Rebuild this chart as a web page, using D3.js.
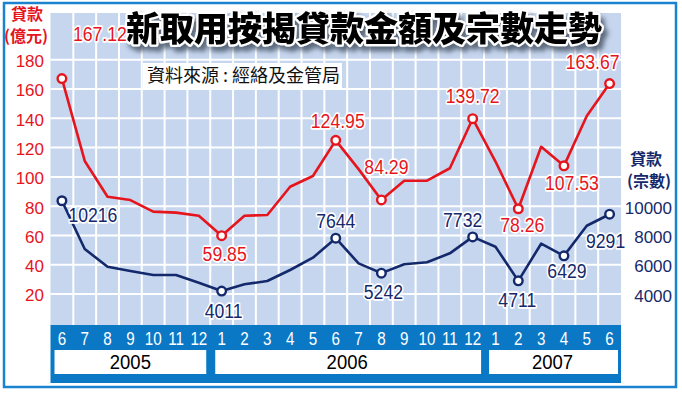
<!DOCTYPE html>
<html>
<head>
<meta charset="utf-8">
<script src="https://cdn.jsdelivr.net/npm/d3@7"></script>
<style>
body { margin: 0; background: #fff; }
text { font-family: "Liberation Sans", Arial, sans-serif; }
.cjk { font-family: "Noto Sans CJK TC", "Noto Sans CJK SC", sans-serif; }
</style>
</head>
<body>
<svg id="chart"></svg>
<script>
// data
const months = ["6","7","8","9","10","11","12","1","2","3","4","5","6","7","8","9","10","11","12","1","2","3","4","5","6"];
const yearLabels = ["2005", "2006", "2007"];
const loanAmount = [167.12, 110.9, 86.5, 84.2, 76.3, 75.6, 73.5, 59.85, 73.5, 74.0, 93.3, 100.6, 124.95,
                    105.3, 84.29, 97.4, 97.4, 105.9, 139.72, 110.5, 78.26, 120.6, 107.53, 141.6, 163.67];
const loanCount = [10216, 6899, 5683, 5387, 5112, 5112, 4583, 4011, 4473, 4700, 5456, 6301, 7644,
                   5916, 5242, 5848, 5985, 6603, 7732, 7057, 4711, 7263, 6429, 8500, 9291];
const labelled = [0, 7, 12, 14, 18, 20, 22, 24];
const amountTicks = [20, 40, 60, 80, 100, 120, 140, 160, 180];
const countTicks = [4000, 6000, 8000, 10000];

// label nudges (px) for each labelled point
const amountOffsets = [[38,-45],[3,18],[2,-20],[5,-33],[0,-23],[4,16],[8,17],[-17,-22]];
const countOffsets  = [[31,14],[2,19],[0,-18],[2,18],[-10,-17],[-1,19],[3,15],[-4,26]];

const width = 682, height = 393;
const RED = "#e6141c", NAVY = "#14296b", BLUE = "#0b78c6";

const svg = d3.select("#chart").attr("width", width).attr("height", height);

const defs = svg.append("defs");
defs.append("filter").attr("id", "shadow")
    .attr("x", "-10%").attr("y", "-30%").attr("width", "130%").attr("height", "180%")
  .append("feDropShadow")
    .attr("dx", 4).attr("dy", 5).attr("stdDeviation", 2.5)
    .attr("flood-color", "#4a5468").attr("flood-opacity", 0.85);

// frame
svg.append("rect").attr("x", 4).attr("y", 3).attr("width", 672).attr("height", 384)
    .attr("fill", "#fff").attr("stroke", "#1b82cf").attr("stroke-width", 2.5);

// scales
const x = d3.scaleBand().domain(d3.range(months.length)).range([50.5, 621]);
const cx = i => x(i) + x.bandwidth() / 2;
const yAmt = d3.scaleLinear().domain([0, 180]).range([323.4, 59.7]);
const yCnt = d3.scaleLinear().domain([4000, 10000]).range([291.2, 203.9]);

// plot background + grid
svg.append("rect").attr("x", 50.5).attr("y", 13).attr("width", 570.5).attr("height", 312)
    .attr("fill", "#c6d6ee");

svg.append("g").selectAll("line.h")
  .data(amountTicks)
  .join("line")
    .attr("x1", 50.5).attr("x2", 621)
    .attr("y1", d => yAmt(d)).attr("y2", d => yAmt(d))
    .attr("stroke", "#fff").attr("stroke-width", 2);

svg.append("g").selectAll("line.v")
  .data(d3.range(1, months.length))
  .join("line")
    .attr("x1", d => x(d)).attr("x2", d => x(d))
    .attr("y1", 13).attr("y2", 325)
    .attr("stroke", "#fff").attr("stroke-width", 2);

// month / year bar
svg.append("rect").attr("x", 50.5).attr("y", 325).attr("width", 570.5).attr("height", 58)
    .attr("fill", BLUE);

svg.append("g").selectAll("text")
  .data(months)
  .join("text")
    .attr("transform", (d, i) => `translate(${cx(i)},345) scale(0.8,1)`)
    .attr("text-anchor", "middle")
    .attr("font-size", 19)
    .attr("fill", "#fff")
    .text(d => d);

// year spans: a new year starts whenever the month is 1
const spans = [];
months.forEach((m, i) => {
  if (i === 0 || m === "1") spans.push({ from: i, to: i });
  else spans[spans.length - 1].to = i;
});
spans.forEach((s, k) => s.label = yearLabels[k]);

const yearG = svg.append("g").selectAll("g").data(spans).join("g");
yearG.append("rect")
    .attr("x", d => x(d.from) + (d.from === 0 ? 4 : 5))
    .attr("width", d => x(d.to) + x.bandwidth() - x(d.from) - (d.from === 0 ? 8 : 8))
    .attr("y", 350).attr("height", 24)
    .attr("fill", "#fff");
yearG.append("text")
    .attr("transform", d => `translate(${(x(d.from) + x(d.to) + x.bandwidth()) / 2},369) scale(0.88,1)`)
    .attr("text-anchor", "middle")
    .attr("font-size", 21)
    .attr("fill", "#000")
    .text(d => d.label);

// left axis (amount)
const leftAxis = svg.append("g").attr("transform", "translate(44,0)")
    .call(d3.axisLeft(yAmt).tickValues(amountTicks).tickSize(0).tickPadding(0));
leftAxis.select(".domain").remove();
leftAxis.selectAll("text").attr("font-size", 17).attr("fill", RED)
    .attr("font-family", "Liberation Sans, Arial, sans-serif").attr("dy", "0.4em");

svg.append("text").attr("class", "cjk").attr("x", 27).attr("y", 20)
    .attr("text-anchor", "middle").attr("font-size", 16).attr("font-weight", 700)
    .attr("fill", RED).text("貸款");
svg.append("text").attr("class", "cjk").attr("x", 26).attr("y", 42)
    .attr("text-anchor", "middle").attr("font-size", 16).attr("font-weight", 700)
    .attr("fill", RED).text("(億元)");

// right axis (count)
const rightAxis = svg.append("g").attr("transform", "translate(672,3)")
    .call(d3.axisLeft(yCnt).tickValues(countTicks).tickFormat(d3.format("d")).tickSize(0).tickPadding(0));
rightAxis.select(".domain").remove();
rightAxis.selectAll("text").attr("font-size", 17).attr("fill", NAVY)
    .attr("font-family", "Liberation Sans, Arial, sans-serif").attr("dy", "0.4em");

svg.append("text").attr("class", "cjk").attr("x", 646).attr("y", 165)
    .attr("text-anchor", "middle").attr("font-size", 16).attr("font-weight", 700)
    .attr("fill", NAVY).text("貸款");
svg.append("text").attr("class", "cjk").attr("x", 649).attr("y", 187)
    .attr("text-anchor", "middle").attr("font-size", 16).attr("font-weight", 700)
    .attr("fill", NAVY).text("(宗數)");

// source note
svg.append("rect").attr("x", 143).attr("y", 63).attr("width", 199).attr("height", 25).attr("fill", "#fff");
svg.append("text").attr("class", "cjk").attr("x", 147).attr("y", 82)
    .attr("font-size", 18).attr("fill", "#111").text("資料來源 : 經絡及金管局");

// title
svg.append("text").attr("class", "cjk")
    .attr("x", 364).attr("y", 41)
    .attr("text-anchor", "middle")
    .attr("font-size", 34).attr("font-weight", 900)
    .attr("fill", "#000").attr("stroke", "#fff").attr("stroke-width", 4.5)
    .attr("stroke-linejoin", "round").attr("paint-order", "stroke")
    .attr("filter", "url(#shadow)")
    .text("新取用按揭貸款金額及宗數走勢");

// lines
function drawSeries(values, y, color, offsets) {
  const line = d3.line().x((d, i) => cx(i)).y(d => y(d));
  svg.append("path").datum(values)
      .attr("d", line)
      .attr("fill", "none").attr("stroke", color).attr("stroke-width", 2.6)
      .attr("stroke-linejoin", "round");

  svg.append("g").selectAll("circle")
    .data(labelled)
    .join("circle")
      .attr("cx", i => cx(i)).attr("cy", i => y(values[i])).attr("r", 4.3)
      .attr("fill", "#fff").attr("stroke", color).attr("stroke-width", 2.4);

  svg.append("g").selectAll("text")
    .data(labelled)
    .join("text")
      .attr("transform", (i, k) => `translate(${cx(i) + offsets[k][0]},${y(values[i]) + offsets[k][1]}) scale(0.84,1)`)
      .attr("text-anchor", "middle").attr("dy", "0.36em")
      .attr("font-size", 21)
      .attr("fill", color).attr("stroke", "#fff").attr("stroke-width", 3.5)
      .attr("stroke-linejoin", "round").attr("paint-order", "stroke")
      .text(i => values[i]);
}

drawSeries(loanAmount, yAmt, RED, amountOffsets);
drawSeries(loanCount, yCnt, NAVY, countOffsets);
</script>
</body>
</html>
